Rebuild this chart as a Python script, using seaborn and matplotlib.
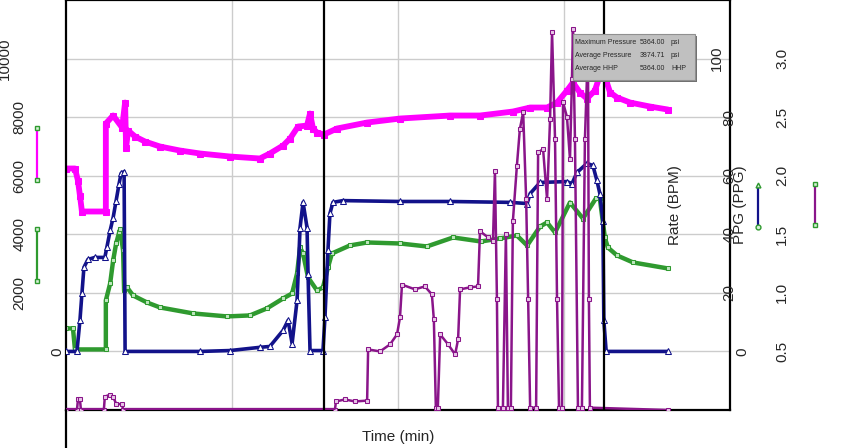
import numpy as np
import pandas as pd
import matplotlib
matplotlib.use("Agg")
import matplotlib.pyplot as plt
import matplotlib.transforms as mtransforms
from matplotlib.lines import Line2D
from matplotlib.patches import Rectangle
import seaborn as sns

# ---------------- data ----------------
# Treating pressure (psi, left axis)
mag_t = [0, 2.7, 3.6, 4.2, 4.8, 12.0, 12.0, 14.2, 16.9, 17.8, 18.1, 18.7, 20.8, 23.8, 28.3, 34.3,
         40.4, 49.4, 58.4, 61.4, 65.4, 67.5, 69.9, 72.6, 73.5, 74.4, 75.6, 77.7, 81.6, 90.7, 100.6,
         115.7, 124.7, 134.6, 139.8, 144.9, 147.9, 150.9, 152.7, 154.8, 156.9, 159.3, 160.8, 161.7,
         162.7, 163.9, 166.0, 169.9, 175.9, 181.3]
mag_p = [6246, 6246, 5836, 5324, 4778, 4778, 7782, 8055, 7645, 8498, 6963, 7543, 7338, 7167, 6997, 6860,
         6758, 6655, 6587, 6758, 7031, 7270, 7679, 7713, 8123, 7611, 7474, 7406, 7611, 7816, 7952,
         8055, 8055, 8191, 8328, 8328, 8498, 8908, 9181, 8840, 8635, 8908, 9420, 9864,
         9249, 8840, 8669, 8498, 8362, 8259]

# Annulus / backside pressure (psi, left axis)
grn_t = [0, 2.1, 2.7, 12.0, 12.0, 13.3, 14.2, 15.1, 16.0, 16.3, 17.2, 17.5, 18.4, 20.2, 24.4, 28.3,
         38.3, 48.5, 55.4, 60.5, 65.4, 68.1, 69.6, 70.5, 71.4, 72.9, 75.6, 77.4, 78.9, 80.1, 85.5,
         90.7, 100.6, 108.7, 116.6, 125.0, 130.7, 135.8, 138.9, 142.8, 144.9, 147.3, 151.8, 155.7,
         159.6, 160.8, 162.3, 163.2, 166.0, 170.8, 181.3]
grn_p = [785, 785, 68, 68, 1741, 2321, 3106, 3686, 4061, 4164, 3447, 2082, 2184, 1911, 1672, 1502,
         1297, 1195, 1229, 1468, 1809, 1980, 2662, 3550, 3345, 2526, 2082, 2184, 2867, 3345, 3618,
         3720, 3686, 3584, 3891, 3754, 3857, 3959, 3618, 4266, 4403, 4061, 5085, 4539,
         5222, 5222, 3891, 3550, 3276, 3038, 2833]

# Slurry rate (BPM, right axis)
blu_t = [0, 3.3, 4.2, 4.8, 5.4, 6.6, 8.7, 11.7, 12.3, 13.3, 14.2, 15.1, 16.0, 16.6, 17.5, 17.8,
         40.4, 49.4, 58.4, 61.4, 65.4, 66.9, 68.1, 69.6, 70.5, 71.4, 72.6, 72.9, 73.5, 77.4, 78.0,
         78.9, 79.5, 80.4, 83.4, 100.6, 115.7, 133.7, 138.9, 139.8, 142.8, 150.9, 152.4, 153.9,
         156.9, 158.7, 159.9, 160.8, 161.7, 162.0, 162.7, 181.3]
blu_r = [0, 0, 10.6, 19.8, 28.7, 31.4, 32.1, 32.1, 35.5, 41.3, 45.7, 51.5, 57.3, 60.8, 61.4, 0,
         0, 0.3, 1.4, 1.7, 7.2, 10.6, 2.7, 17.4, 42.3, 50.9, 42.3, 26.6, 0.3, 0.3, 11.6,
         34.5, 47.1, 50.9, 51.5, 51.2, 51.2, 50.9, 50.5, 53.9, 57.7, 58.0, 57.3, 61.1,
         64.2, 63.5, 58.4, 53.9, 44.7, 10.6, 0, 0]

# Proppant concentration (PPG, right axis)
pur_t = [0, 3.3, 3.6, 4.2, 4.5, 11.4, 11.7, 13.3, 14.2, 15.1, 16.9, 17.2, 81.0, 81.3, 84.0, 87.0,
         90.7, 91.0, 94.6, 97.6, 99.7, 100.6, 101.2, 105.1, 108.1, 110.2, 110.8, 111.4, 112.0,
         112.7, 115.1, 117.2, 118.1, 118.7, 121.7, 124.1, 124.7, 127.1, 128.6, 129.2, 129.8,
         130.1, 131.6, 132.5, 133.1, 134.0, 134.6, 135.8, 136.7, 137.7, 138.6, 139.2, 139.8,
         141.6, 142.2, 143.7, 144.9, 145.8, 146.4, 147.3, 147.9, 148.5, 149.4, 149.7, 150.9,
         151.8, 152.4, 152.7, 153.3, 154.2, 155.4, 156.3, 156.9, 157.2, 157.5, 157.8, 181.3]
pur_c = [0, 0, 0.09, 0.09, 0, 0, 0.115, 0.13, 0.11, 0.055, 0.047, 0, 0, 0.073, 0.09, 0.073,
         0.08, 0.517, 0.5, 0.56, 0.645, 0.79, 1.07, 1.03, 1.055, 0.987, 0.773, 0.02, 0.02,
         0.645, 0.56, 0.474, 0.603, 1.03, 1.047, 1.055, 1.526, 1.474, 1.44, 2.038, 0.944,
         0.02, 0.02, 1.5, 0.02, 0.02, 1.611, 2.081, 2.397, 2.543, 1.799, 0.944, 0.02,
         0.02, 2.2, 2.226, 1.799, 2.483, 3.226, 2.312, 0.944, 0.02, 0.02, 2.628, 2.5,
         2.141, 2.825, 3.252, 2.312, 0.02, 0.02, 2.312, 2.825, 3.167, 0.944, 0.02, 0]

event_t = [77.7, 162.0]
x_ticks = [50, 100, 150]
p_ticks = [0, 2000, 4000, 6000, 8000, 10000]
r_ticks = [0, 20, 40, 60, 80, 100]
c_ticks = [0.5, 1.0, 1.5, 2.0, 2.5, 3.0]
stats_rows = [("Maximum Pressure", "5364.00", "psi"),
              ("Average Pressure", "3874.71", "psi"),
              ("Average HHP", "5364.00", "HHP")]

# ---------------- style ----------------
sns.set_style("white")
plt.rcParams["font.family"] = ["Liberation Sans", "DejaVu Sans"]

W, H = 843, 448
fig = plt.figure(figsize=(W / 100, H / 100), dpi=100)
x0, x1, ytop, ybot = 66, 730, 0, 410
ax = fig.add_axes([x0 / W, (H - ybot) / H, (x1 - x0) / W, (ybot - ytop) / H])
ax2 = ax.twinx()
ax3 = ax.twinx()
for a in (ax2, ax3):
    a.set_position(ax.get_position())

ax.set_xlim(0, 200)
ax.set_ylim(-2000, 12000)
ax2.set_ylim(-20, 120)
ax3.set_ylim(0, 3.5)

MAG = "#ff00ff"
GRN = "#2f9a2f"
BLU = "#12128a"
PUR = "#8a158a"

# grid
for v in p_ticks:
    ax.axhline(v, color="#cccccc", lw=1.0, zorder=0)
for v in x_ticks:
    ax.axvline(v, color="#cccccc", lw=1.0, zorder=0)

df_m = pd.DataFrame({"t": mag_t, "v": mag_p})
df_g = pd.DataFrame({"t": grn_t, "v": grn_p})
df_b = pd.DataFrame({"t": blu_t, "v": blu_r})
df_c = pd.DataFrame({"t": pur_t, "v": pur_c})

sns.lineplot(data=df_g, x="t", y="v", ax=ax, color=GRN, lw=3.2, estimator=None, sort=False,
             marker="s", markersize=3.5, markerfacecolor="#bfe6bf", markeredgecolor=GRN, zorder=3)
sns.lineplot(data=df_m, x="t", y="v", ax=ax, color=MAG, lw=4.2, estimator=None, sort=False,
             marker="s", markersize=4, markerfacecolor=MAG, markeredgecolor=MAG, zorder=4)
sns.lineplot(data=df_c, x="t", y="v", ax=ax3, color=PUR, lw=1.8, estimator=None, sort=False,
             marker="s", markersize=3.5, markerfacecolor="#e6c6e6", markeredgecolor=PUR, zorder=3)
# dense-marker look along the zero baseline of the proppant trace
pc = np.array(pur_c, dtype=float)
pt = np.array(pur_t, dtype=float)
zero_run = np.ma.masked_where(~((pc <= 0.0) & (np.r_[pc[1:], 1] <= 0.0) | (pc <= 0.0) & (np.r_[1, pc[:-1]] <= 0.0)), pc)
ax3.plot(pt, zero_run, color=PUR, lw=3.8, solid_capstyle="butt", zorder=3)
sns.lineplot(data=df_b, x="t", y="v", ax=ax2, color=BLU, lw=2.6, estimator=None, sort=False,
             marker="^", markersize=4, markerfacecolor="white", markeredgecolor=BLU, zorder=4)

for a in (ax, ax2, ax3):
    a.set_xlabel("")
    a.set_ylabel("")
    a.set_yticks([])
    a.patch.set_visible(False)

for t in event_t:
    ax3.axvline(t, color="black", lw=1.6, zorder=6)

for a in (ax, ax2, ax3):
    for s in a.spines.values():
        s.set_visible(False)
for side in ("left", "right", "top", "bottom"):
    ax.spines[side].set_visible(True)
    ax.spines[side].set_color("black")
    ax.spines[side].set_linewidth(1.6)
    ax.spines[side].set_zorder(7)

ax.set_xticks(x_ticks)
ax.set_xticklabels([str(v) for v in x_ticks], fontsize=11)
ax.tick_params(axis="x", length=0, pad=3)
ax2.set_xticks([])
ax3.set_xticks([])
fig.text(398 / W, 1 - 437 / H, "Time (min)", ha="center", va="center", fontsize=11)

# left spine extends below plot
fig.add_artist(Line2D([x0 / W, x0 / W], [0, (H - ybot) / H], color="black", lw=1.6))

# y tick labels (rotated), placed via blended transforms
def place(axis, values, fmt, xfun):
    tr = mtransforms.blended_transform_factory(fig.transFigure, axis.transData)
    for v in values:
        s = fmt(v)
        fig.text(xfun(s) / W, v, s, transform=tr, rotation=90, ha="center", va="center",
                 fontsize=11, clip_on=False)

place(ax, p_ticks, lambda v: f"{v:d}", lambda s: 70 - 12.6 * len(s) - (2 if len(s) == 5 else 0))
place(ax2, r_ticks, lambda v: f"{v:d}", lambda s: 754.6 - 12.6 * len(s))
place(ax3, c_ticks, lambda v: f"{v:.1f}", lambda s: 782)

fig.text(675 / W, 1 - 205 / H, "Rate (BPM)", rotation=90, ha="center", va="center", fontsize=11)
fig.text(740 / W, 1 - 205 / H, "PPG (PPG)", rotation=90, ha="center", va="center", fontsize=11)

# legend swatches
def swatch(xp, ya, yb, color, top_marker, bot_marker):
    fx = xp / W
    fig.add_artist(Line2D([fx, fx], [1 - ya / H, 1 - yb / H], color=color, lw=1.6))
    fig.add_artist(Line2D([fx], [1 - ya / H], marker=top_marker, markersize=3.5, color=GRN,
                          markerfacecolor="#d8f0d8", lw=0))
    fig.add_artist(Line2D([fx], [1 - yb / H], marker=bot_marker, markersize=3.5, color=GRN,
                          markerfacecolor="#d8f0d8", lw=0))

swatch(37, 128, 180, MAG, "s", "s")
swatch(37, 229, 281, GRN, "s", "s")
swatch(758, 185, 227, BLU, "^", "o")
swatch(815, 184, 225, PUR, "s", "s")

# stats box
bx0, by0, bx1, by1 = 573, 34, 695, 80
fig.add_artist(Rectangle((bx0 / W + 2 / W, 1 - (by1 + 2) / H), (bx1 - bx0) / W, (by1 - by0) / H,
                         transform=fig.transFigure, facecolor="#707070", edgecolor="none", zorder=9))
fig.add_artist(Rectangle((bx0 / W, 1 - by1 / H), (bx1 - bx0) / W, (by1 - by0) / H,
                         transform=fig.transFigure, facecolor="#c0c0c0", edgecolor="#909090",
                         lw=0.8, zorder=10))
for i, (lab, val, unit) in enumerate(stats_rows):
    yy = 1 - (43 + 12.5 * i) / H
    fig.text(575 / W, yy, lab, fontsize=5.0, va="center", ha="left", zorder=11)
    fig.text(640 / W, yy, val, fontsize=5.0, va="center", ha="left", zorder=11)
    fig.text(671 / W, yy, unit, fontsize=5.0, va="center", ha="left", zorder=11)

fig.savefig("out.png", dpi=100)
